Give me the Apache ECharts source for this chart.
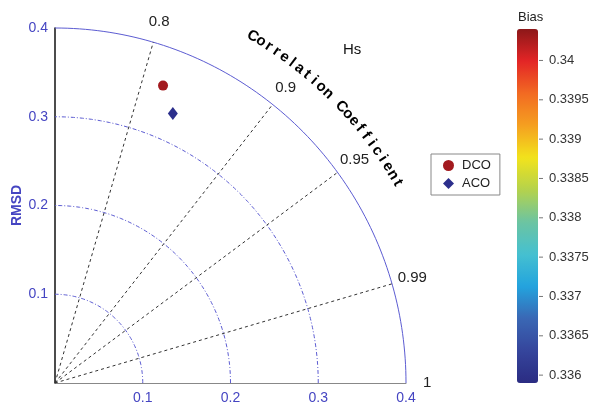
<!DOCTYPE html>
<html>
<head>
<meta charset="utf-8">
<script src="https://cdn.jsdelivr.net/npm/echarts@6/dist/echarts.min.js"></script>
<style>html,body{margin:0;padding:0;background:#fff;}#c{width:595px;height:409px;}</style>
</head>
<body>
<div id="c"></div>
<script>
// ---- data ----
const rmsTicks = [0.1, 0.2, 0.3, 0.4];
const corrTicks = [0.8, 0.9, 0.95, 0.99];
const corrLabels = [0.8, 0.9, 0.95, 0.99, 1];
const models = ['DCO', 'ACO'];
const stdDev = [0.357, 0.332];
const corrVals = [0.820, 0.838];
const biasVals = [0.3404, 0.3359];
const biasTicks = [0.336, 0.3365, 0.337, 0.3375, 0.338, 0.3385, 0.339, 0.3395, 0.34];
const biasRange = [0.3359, 0.3404];
const corrTitle = 'Correlation Coefficient';
const chartTitle = 'Hs';

// ---- helpers ----
function angleOf(c) { return 2 * Math.acos(Math.min(1, c)); } // zoomed Taylor mapping
function toXY(r, c) { const t = angleOf(c); return [r * Math.cos(t), r * Math.sin(t)]; }

const blue = '#4545c2';
const jet = ['#2b2c82', '#35459c', '#3a67b4', '#23a3de', '#45c0d0', '#6cc4a2', '#b4d24c', '#f2e31c', '#f5a020', '#f26a22', '#e32526', '#8c1719'];

const chart = echarts.init(document.getElementById('c'));
const option = {
  backgroundColor: '#fff',
  animation: false,
  title: [
    { text: chartTitle, left: 338, top: 37, textStyle: { fontSize: 15, fontWeight: 'normal', color: '#111', fontFamily: 'Arial' } },
    { text: 'Bias', left: 513, top: 6, textStyle: { fontSize: 13, fontWeight: 'normal', color: '#222', fontFamily: 'Arial' } }
  ],
  legend: {
    orient: 'vertical', left: 431, top: 154,
    padding: [5, 9, 5, 12], itemGap: 5, itemWidth: 11, itemHeight: 11,
    borderColor: '#888', borderWidth: 1,
    textStyle: { fontSize: 13, color: '#222', fontFamily: 'Arial', padding: [0, 0, 0, 3] },
    data: models
  },
  grid: [
    { left: 55, top: 28, width: 351, height: 355, containLabel: false, outerBoundsMode: 'none' },
    { left: 517, top: 29, width: 21, height: 354, containLabel: false, outerBoundsMode: 'none' }
  ],
  xAxis: [
    { gridIndex: 0, type: 'value', min: 0, max: 0.4, interval: 0.1,
      axisLine: { lineStyle: { color: '#888', width: 1 } }, axisTick: { show: false }, splitLine: { show: false },
      axisLabel: { color: blue, fontSize: 14, margin: 8, fontFamily: 'Arial', formatter: v => v === 0 ? '' : String(+v.toFixed(1)) } },
    { gridIndex: 1, type: 'value', show: false, min: 0, max: 1 }
  ],
  yAxis: [
    { gridIndex: 0, type: 'value', min: 0, max: 0.4, interval: 0.1,
      name: 'RMSD', nameLocation: 'middle', nameGap: 31, nameMoveOverlap: false,
      nameTextStyle: { color: blue, fontSize: 14, fontWeight: 'bold', fontFamily: 'Arial' },
      axisLine: { lineStyle: { color: '#111', width: 1.5 } }, axisTick: { show: false }, splitLine: { show: false },
      axisLabel: { color: blue, fontSize: 14, margin: 7, fontFamily: 'Arial', formatter: v => v === 0 ? '' : String(+v.toFixed(1)) } },
    { gridIndex: 1, type: 'value', position: 'right', min: biasRange[0], max: biasRange[1],
      axisLine: { show: false }, splitLine: { show: false }, axisTick: { show: false },
      axisLabel: { customValues: biasTicks, color: '#333', fontSize: 13, margin: 11, fontFamily: 'Arial', formatter: v => String(v) } }
  ],
  visualMap: {
    type: 'continuous', min: biasRange[0], max: biasRange[1],
    left: 517, top: 29, itemWidth: 21, itemHeight: 354, padding: 0,
    calculable: false, hoverLink: false, text: null, showLabel: false,
    seriesIndex: [], inRange: { color: jet }
  },
  series: [
    { // RMS arcs
      type: 'custom', xAxisIndex: 0, yAxisIndex: 0, silent: true, z: 1,
      data: rmsTicks.map(r => [r, 0]),
      renderItem: (p, api) => {
        const r = api.value(0); const pts = [];
        for (let d = 0; d <= 90; d += 1) { const t = d * Math.PI / 180; pts.push(api.coord([r * Math.cos(t), r * Math.sin(t)])); }
        return { type: 'polyline', shape: { points: pts },
          style: { stroke: '#5c5cd2', fill: null, lineWidth: 1, lineDash: r >= 0.4 ? null : [4, 2, 1, 2] } };
      }
    },
    { // correlation rays
      type: 'custom', xAxisIndex: 0, yAxisIndex: 0, silent: true, z: 2,
      data: corrTicks.map(c => [c, 0]),
      renderItem: (p, api) => {
        const c = api.value(0); const o = api.coord([0, 0]); const e = api.coord(toXY(rmsTicks[rmsTicks.length - 1], c));
        return { type: 'line', shape: { x1: o[0], y1: o[1], x2: e[0], y2: e[1] },
          style: { stroke: '#333', lineWidth: 1, lineDash: [3, 3] } };
      }
    },
    { // correlation labels
      type: 'custom', xAxisIndex: 0, yAxisIndex: 0, silent: true, z: 3,
      data: corrLabels.map(c => [c, 0]),
      renderItem: (p, api) => {
        const c = api.value(0); const pt = api.coord(toXY(0.424, c));
        return { type: 'text', x: pt[0], y: pt[1],
          style: { text: String(c), font: '15px Arial', fill: '#222', align: 'center', verticalAlign: 'middle' } };
      }
    },
    { // curved axis title
      type: 'custom', xAxisIndex: 0, yAxisIndex: 0, silent: true, z: 3,
      data: corrTitle.split('').map((ch, i) => [i, 0]),
      renderItem: (p, api) => {
        const n = corrTitle.length; const i = p.dataIndex;
        const deg = 60 - i * 30 / (n - 1); const t = deg * Math.PI / 180;
        const pt = api.coord([0.451 * Math.cos(t), 0.451 * Math.sin(t)]);
        return { type: 'text', x: pt[0], y: pt[1], rotation: (deg - 90) * Math.PI / 180,
          style: { text: corrTitle[i], font: 'bold 15px Arial', fill: '#000', align: 'center', verticalAlign: 'middle' } };
      }
    },
    { // colorbar tick marks
      type: 'custom', xAxisIndex: 1, yAxisIndex: 1, silent: true, z: 4,
      data: biasTicks.map(v => [1, v]),
      renderItem: (p, api) => {
        const pt = api.coord([api.value(0), api.value(1)]);
        return { type: 'line', shape: { x1: pt[0] + 1, y1: pt[1], x2: pt[0] + 5, y2: pt[1] },
          style: { stroke: '#777', lineWidth: 1 } };
      }
    },
    { name: models[0], type: 'scatter', xAxisIndex: 0, yAxisIndex: 0, z: 5, symbol: 'circle', symbolSize: 10,
      itemStyle: { color: '#a31a1f', opacity: 1 }, data: [toXY(stdDev[0], corrVals[0]).concat([biasVals[0]])] },
    { name: models[1], type: 'scatter', xAxisIndex: 0, yAxisIndex: 0, z: 5, symbol: 'diamond', symbolSize: [10, 13],
      itemStyle: { color: '#2c2f8c', opacity: 1 }, data: [toXY(stdDev[1], corrVals[1]).concat([biasVals[1]])] }
  ]
};
chart.setOption(option);
</script>
</body>
</html>
